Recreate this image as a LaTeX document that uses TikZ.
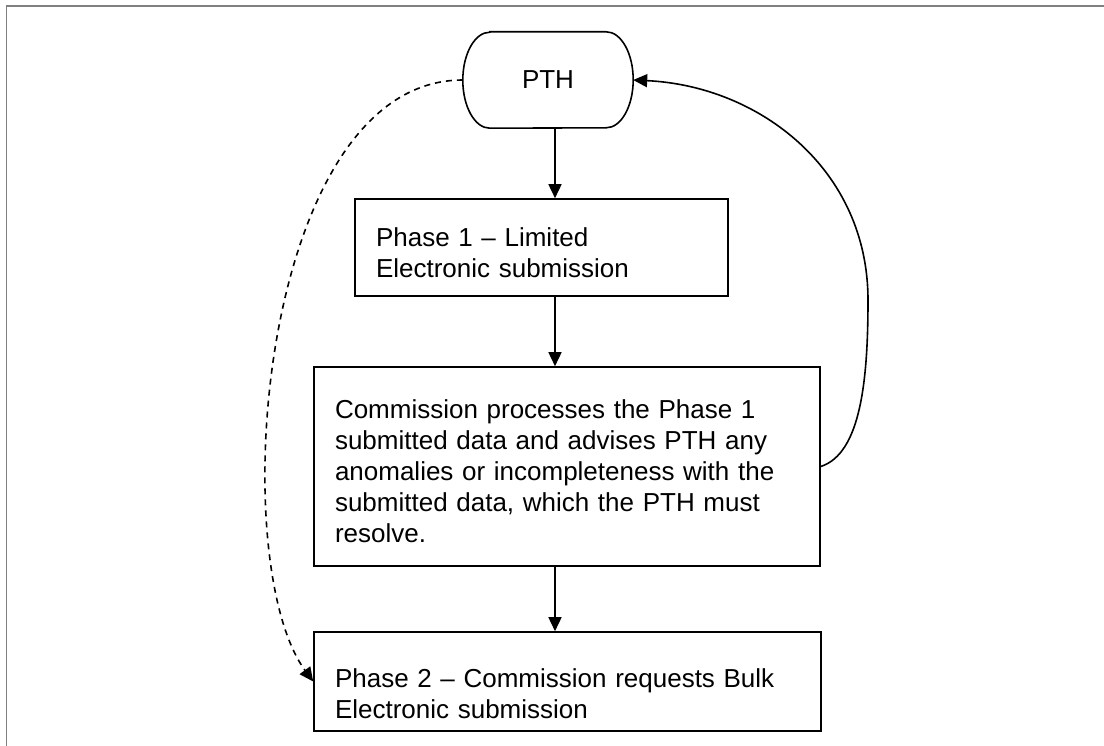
\documentclass[tikz,border=0pt]{standalone}
\usepackage{fontspec}
\setmainfont{Liberation Sans}
\usetikzlibrary{arrows.meta}
\begin{document}
\begin{tikzpicture}[x=1pt,y=-1pt,
  box/.style={draw, line width=1.6pt, align=left, inner xsep=21pt, inner ysep=0pt,
    font=\fontsize{26}{31}\selectfont},
  arr/.style={line width=1.6pt, -{Triangle[length=14pt,width=13pt]}},
  dasharr/.style={arr, dash pattern=on 6pt off 5pt},
  frameline/.style={draw=gray, line width=1.8pt}]
\useasboundingbox (0,0) rectangle (1104,746);
\draw[frameline] (6.5,746) -- (6.5,6) -- (1104,6);

\node[minimum width=170pt, minimum height=96pt, inner sep=0pt,
  font=\fontsize{26}{31}\selectfont] (pth) at (548,80) {PTH};
\draw[line width=1.6pt] ([xshift=27pt]pth.north west) -- ([xshift=-27pt]pth.north east)
  arc[start angle=90, end angle=-90, x radius=27pt, y radius=48pt]
  -- ([xshift=27pt]pth.south west)
  arc[start angle=270, end angle=90, x radius=27pt, y radius=48pt] -- cycle;

\node[box, text width=331pt, minimum height=97pt] (b1) at (541.5,247.5)
  {\rule{0pt}{30pt}Phase 1 -- Limited\\Electronic submission};
\node[box, text width=464pt, minimum height=199pt] (b2) at (567,466.5)
  {\rule{0pt}{29pt}Commission processes the Phase 1\\submitted data and advises PTH any\\anomalies or incompleteness with the\\submitted data, which the PTH must\\resolve.};
\node[box, text width=465pt, minimum height=99pt] (b3) at (567.5,681.5)
  {\rule{0pt}{44pt}Phase 2 -- Commission requests Bulk\\Electronic submission};

\coordinate (ax) at (555,0);
\coordinate (c1) at (868,300);

\draw[arr] (pth.south -| ax) -- (b1.north -| ax);
\draw[arr] (b1.south -| ax) -- (b2.north -| ax);
\draw[arr] (b2.south -| ax) -- (b3.north -| ax);

\draw[dasharr] (pth.west) .. controls +(-203,0) and +(-89,-121) .. (b3.west);
\draw[arr] (b2.east) .. controls +(40,-13) and +(0,80) .. (c1)
  .. controls +(0,-130) and +(127,6) .. (pth.east);
\end{tikzpicture}
\end{document}
